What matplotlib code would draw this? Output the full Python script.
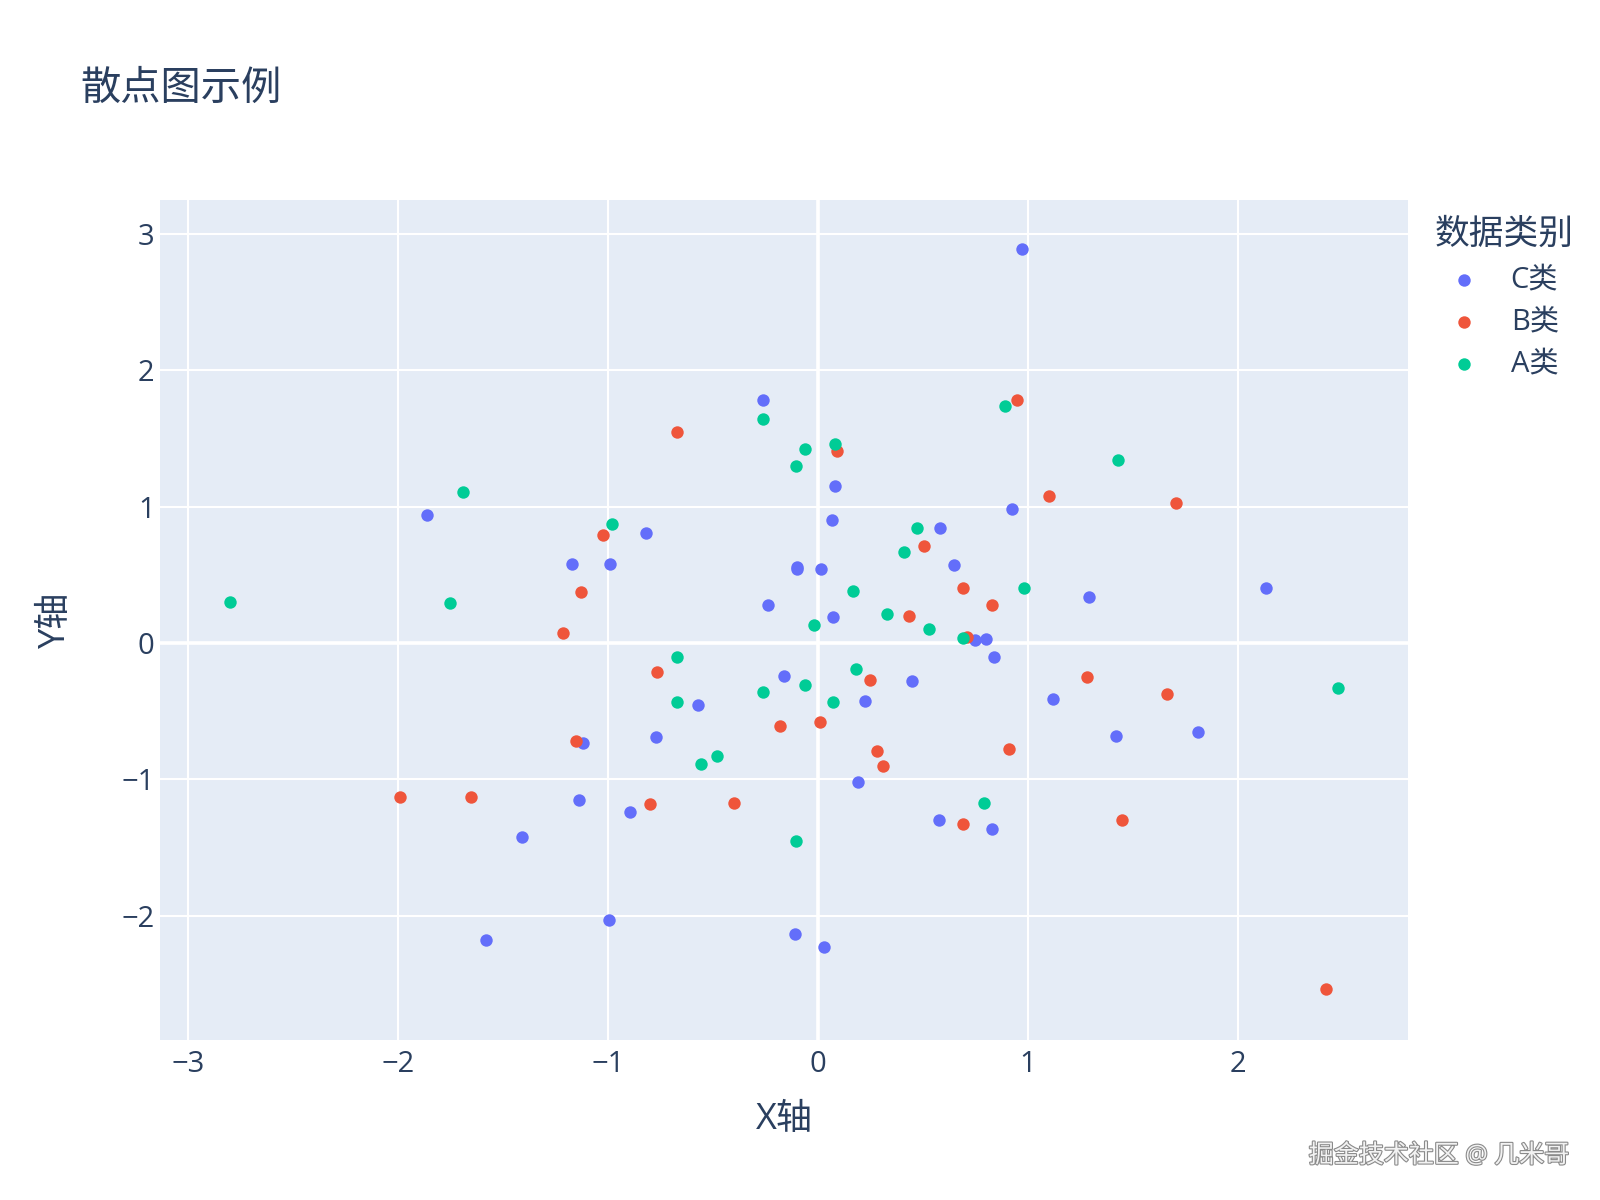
import matplotlib
matplotlib.use("Agg")
import matplotlib.pyplot as plt
import matplotlib.patheffects as pe

# =========================
# DATA
# =========================

c_x = [-1.86, -1.17, -0.26, 0.08, 0.065, -0.82, -0.99, 0.58, 0.65, -0.10,
       -0.10, 0.014, -0.24, 0.07, 0.97, 0.925, 1.29, 2.135, -1.14, -1.41,
       -1.58, 0.75, 0.80, 0.84, -0.57, -0.16, 0.45, 0.225, -1.12, -0.77,
       0.19, 0.575, 0.83, -0.895, -0.995, -0.11, 0.03, 1.12, 1.42, 1.81]
c_y = [0.94, 0.58, 1.78, 1.15, 0.90, 0.81, 0.58, 0.84, 0.57, 0.56,
       0.54, 0.54, 0.28, 0.19, 2.89, 0.98, 0.34, 0.40, -1.15, -1.42,
       -2.175, 0.02, 0.03, -0.105, -0.455, -0.24, -0.28, -0.425, -0.73, -0.69,
       -1.02, -1.30, -1.36, -1.24, -2.03, -2.13, -2.23, -0.41, -0.68, -0.65]

b_x = [-1.13, -0.67, 0.09, -1.025, 0.505, 0.69, 0.435, 0.95, 1.10, 1.705,
       0.83, -1.216, -1.15, -1.99, -1.65, 0.71, -0.765, 0.25, -0.18, 0.008,
       0.28, 0.31, 0.69, -0.80, -0.40, 1.28, 1.66, 0.91, 1.45, 2.42]
b_y = [0.375, 1.55, 1.41, 0.79, 0.71, 0.40, 0.20, 1.78, 1.08, 1.03,
       0.28, 0.07, -0.716, -1.13, -1.13, 0.045, -0.21, -0.27, -0.61, -0.58,
       -0.79, -0.90, -1.33, -1.18, -1.175, -0.25, -0.376, -0.78, -1.295, -2.54]

a_x = [-2.80, -1.69, -1.75, -0.26, -0.06, -0.105, 0.08, -0.98, 0.47, 0.41,
       0.165, 0.33, -0.02, 0.89, 1.43, 0.98, 0.53, 0.69, -0.67, -0.67,
       -0.26, -0.06, 0.18, 0.07, -0.48, -0.555, 0.79, -0.105, 2.475]
a_y = [0.30, 1.11, 0.29, 1.64, 1.42, 1.295, 1.46, 0.875, 0.845, 0.665,
       0.38, 0.21, 0.135, 1.74, 1.34, 0.40, 0.105, 0.04, -0.10, -0.43,
       -0.36, -0.31, -0.19, -0.435, -0.83, -0.89, -1.175, -1.45, -0.33]

series = [("C类", c_x, c_y, "#636efa"),
          ("B类", b_x, b_y, "#EF553B"),
          ("A类", a_x, a_y, "#00cc96")]

# =========================
# STYLE
# =========================

plt.rcParams['font.family'] = ['Open Sans', 'Noto Sans CJK SC', 'DejaVu Sans']
text_color = "#2a3f5f"

fig = plt.figure(figsize=(16, 12), dpi=100)
ax = fig.add_axes([0.1, 0.1333, 0.78, 0.7])
ax.set_facecolor("#E5ECF6")

for name, xs, ys, color in series:
    ax.scatter(xs, ys, s=80, color=color, label=name, linewidths=0, zorder=3)

ax.set_xlim(-3.133, 2.81)
ax.set_ylim(-2.911, 3.248)
ax.set_xticks([-3, -2, -1, 0, 1, 2])
ax.set_yticks([-2, -1, 0, 1, 2, 3])

ax.grid(True, color="white", linewidth=1.5, zorder=0)
ax.axhline(0, color="white", linewidth=2.6, zorder=1)
ax.axvline(0, color="white", linewidth=2.6, zorder=1)
ax.set_axisbelow(True)

for s in ax.spines.values():
    s.set_visible(False)

ax.tick_params(axis='both', length=0, labelsize=21, labelcolor=text_color)
ax.tick_params(axis='x', pad=7)
ax.tick_params(axis='y', pad=4)

ax.set_xlabel("X轴", fontsize=26, color=text_color, va="center")
ax.set_ylabel("Y轴", fontsize=26, color=text_color, va="center")
ax.xaxis.set_label_coords(0.5, -0.095)
ax.yaxis.set_label_coords(-0.083, 0.5)

# =========================
# TITLE / LEGEND / WATERMARK
# =========================

fig.text(80 / 1600, 1 - 90 / 1200, "散点图示例",
         fontsize=29, color=text_color, va="center", ha="left")

leg = ax.legend(title="数据类别", loc="upper left",
                bbox_to_anchor=(0.8895, 0.828), bbox_transform=fig.transFigure,
                frameon=False, fontsize=21, title_fontsize=25,
                handlelength=2.0, handletextpad=0.6, labelspacing=0.45,
                alignment="left", borderaxespad=0, markerscale=1.0)
for t in leg.get_texts():
    t.set_color(text_color)
leg.get_title().set_color(text_color)

fig.text(1439 / 1600, 1 - 1156 / 1200, "掘金技术社区 @ 几米哥",
         fontsize=18, color="#f2f2f2", ha="center", va="center",
         path_effects=[pe.withStroke(linewidth=1.6, foreground="#8a8a8a")])

plt.savefig("out.png", dpi=100)
plt.close()
